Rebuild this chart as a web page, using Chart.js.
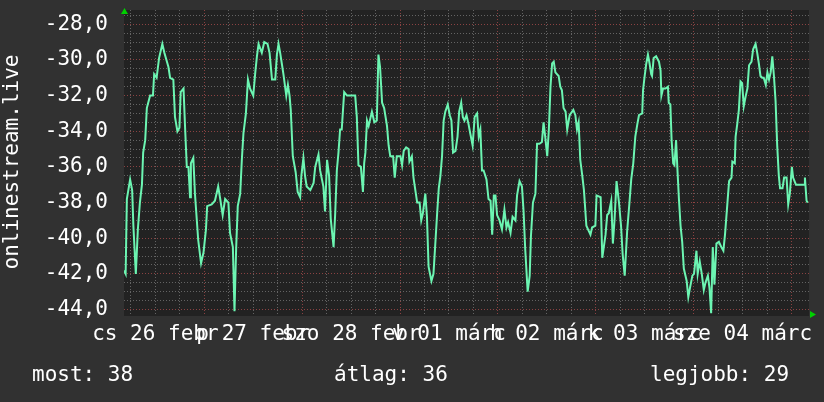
<!DOCTYPE html>
<html>
<head>
<meta charset="utf-8">
<script src="https://cdn.jsdelivr.net/npm/chart.js@4.4.1/dist/chart.umd.min.js"></script>
<style>
  html, body { margin: 0; padding: 0; background: #313131; }
  #wrap { position: relative; width: 824px; height: 402px; overflow: hidden; }
  canvas { display: block; }
  .foot { position: absolute; top: 362px; font-family: "DejaVu Sans Mono", monospace; font-size: 21px; line-height: 24px; color: #ffffff; white-space: pre; }
</style>
</head>
<body>
<div id="wrap">
  <canvas id="c" width="824" height="402"></canvas>
  <div class="foot" id="f1" style="left:32px"></div>
  <div class="foot" id="f2" style="left:334px"></div>
  <div class="foot" id="f3" style="left:650px"></div>
</div>
<script>
// Time axis: hours since 26 Feb 00:00
const hours = [
  4.3, 4.7, 5.0, 5.8, 6.3, 6.6, 7.2, 7.7, 8.2, 8.7, 9.0, 9.5, 9.9, 10.7, 11.4, 11.7, 12.3, 12.9, 13.7, 14.2,
  15.2, 15.6, 16.4, 16.8, 17.4, 17.9, 18.2, 18.9, 19.3, 19.7, 20.1, 20.5, 20.7, 21.3, 21.7, 22.5, 23.2, 23.8, 24.4, 24.7,
  25.8, 26.6, 27.4, 27.9, 28.5, 29.1, 29.9, 30.3, 31.0, 31.4, 31.8, 32.2, 32.8, 33.2, 33.6, 34.2, 34.7, 35.2, 36.0, 36.5,
  36.9, 37.3, 38.1, 38.7, 39.5, 40.0, 40.6, 41.4, 41.8, 42.2, 42.6, 43.0, 43.4, 44.1, 44.5, 44.9, 45.2, 45.7, 46.4, 46.9,
  47.5, 47.8, 48.3, 48.7, 49.1, 50.0, 50.8, 51.2, 52.0, 52.4, 53.2, 53.6, 54.1, 54.6, 55.0, 55.7, 56.1, 56.5, 56.9, 57.3,
  57.7, 58.3, 59.0, 61.0, 61.4, 61.8, 62.4, 62.9, 63.2, 63.5, 63.9, 64.3, 65.1, 65.7, 66.3, 66.7, 67.1, 67.6, 68.1, 68.8,
  69.2, 69.6, 70.3, 70.7, 71.2, 72.1, 72.5, 72.9, 73.5, 74.1, 74.3, 74.9, 75.3, 76.2, 76.8, 77.2, 77.6, 78.2, 78.6, 79.0,
  79.7, 80.2, 80.6, 81.1, 81.5, 81.9, 82.3, 82.7, 83.1, 83.7, 84.2, 84.6, 85.0, 85.6, 86.1, 86.5, 87.0, 87.4, 87.8, 88.3,
  88.8, 89.2, 89.8, 90.3, 90.9, 91.3, 91.7, 92.1, 92.5, 93.2, 93.7, 94.2, 94.6, 95.0, 95.4, 95.8, 96.4, 97.0, 97.6, 98.1,
  98.5, 99.1, 99.6, 100.3, 100.7, 101.3, 101.9, 102.3, 102.7, 103.3, 103.8, 104.1, 104.6, 105.2, 105.6, 106.2, 106.8, 107.2, 107.6, 108.1,
  108.5, 108.9, 109.3, 109.7, 110.1, 110.9, 111.3, 111.7, 112.1, 112.6, 113.0, 113.6, 114.5, 115.0, 115.4, 115.8, 116.2, 116.7, 117.1, 117.7,
  118.3, 118.7, 119.1, 119.9, 120.2, 121.2, 121.6, 122.4, 122.8, 123.2, 123.8, 124.2, 124.6, 125.1, 125.7, 126.2, 126.6, 127.1, 127.7, 128.3,
  128.7, 129.2, 129.7, 130.2, 130.6, 131.4, 131.6, 132.0, 132.4, 132.8, 133.2, 133.6, 133.8, 134.2, 134.8, 135.5, 135.9, 136.1, 136.5, 137.1,
  137.7, 137.9, 138.3, 138.6, 139.0, 139.3, 139.7, 140.0, 140.4, 140.8, 141.2, 141.6, 142.3, 142.7, 143.1, 143.7, 144.1, 144.7, 145.0, 145.5,
  146.0, 146.5, 146.9, 147.5, 147.9, 148.3, 148.7, 149.1, 149.6, 150.2, 150.8, 151.3, 151.7, 152.3, 152.7, 153.3, 153.5, 154.1, 154.3, 154.7,
  155.1, 155.5, 155.9, 156.3, 156.8, 157.2, 157.6, 158.2, 158.6, 159.2, 159.6, 160.0, 160.4, 160.8, 161.2, 161.7, 162.1, 162.5, 162.9, 163.3,
  163.7, 164.1, 164.5, 164.9, 165.2, 165.8, 166.2, 166.8, 167.2, 167.6, 168.1, 168.4, 169.1, 171.1, 171.3, 171.7, 172.0
];
const values = [
  -41.8, -42.0, -37.8, -36.7, -37.3, -39.3, -42.0, -39.5, -38.0, -37.0, -35.2, -34.5, -32.7, -32.0, -32.0, -30.8, -31.0, -29.9, -29.1, -29.6,
  -30.4, -31.0, -31.1, -33.2, -34.0, -33.8, -31.8, -31.6, -33.9, -36.0, -36.0, -37.7, -35.8, -35.5, -37.5, -40.1, -41.4, -40.8, -39.5, -38.2,
  -38.1, -37.9, -37.1, -37.8, -38.7, -37.8, -38.0, -39.7, -40.5, -44.1, -40.6, -38.2, -37.5, -35.6, -34.1, -33.0, -31.1, -31.6, -32.0, -30.7,
  -29.8, -29.1, -29.6, -29.0, -29.1, -29.6, -31.1, -31.1, -29.7, -29.1, -29.6, -30.2, -30.8, -32.0, -31.4, -32.0, -32.8, -35.4, -36.3, -37.4,
  -37.7, -36.5, -35.5, -36.5, -37.1, -37.3, -36.9, -36.0, -35.3, -36.2, -37.1, -38.5, -35.6, -36.5, -38.9, -40.5, -38.6, -36.2, -35.2, -33.9,
  -33.9, -31.8, -32.0, -32.0, -33.2, -35.9, -36.0, -37.4, -35.8, -35.2, -33.4, -33.7, -32.9, -33.5, -33.4, -29.7, -30.4, -32.4, -32.7, -33.7,
  -34.8, -35.4, -35.4, -36.6, -35.4, -35.4, -35.9, -35.1, -34.9, -35.0, -35.7, -35.4, -36.6, -38.0, -38.0, -39.0, -38.6, -37.5, -38.8, -41.6,
  -42.4, -42.0, -40.5, -38.6, -37.2, -36.5, -35.4, -33.4, -32.9, -32.5, -33.1, -33.4, -35.2, -35.1, -34.3, -32.9, -32.4, -33.2, -33.4, -33.1,
  -33.6, -34.1, -34.8, -33.2, -33.0, -34.3, -33.9, -36.2, -36.2, -36.7, -37.8, -37.9, -39.8, -37.6, -37.6, -38.7, -39.0, -39.5, -38.4, -39.4,
  -39.1, -39.7, -38.8, -39.0, -37.6, -36.8, -37.1, -38.5, -40.6, -43.0, -42.1, -39.9, -38.0, -37.5, -34.7, -34.7, -34.6, -33.5, -34.3, -35.4,
  -33.9, -31.5, -30.2, -30.1, -30.7, -30.9, -31.5, -31.7, -32.7, -32.9, -33.9, -33.1, -32.8, -33.1, -33.9, -33.5, -35.6, -36.5, -37.3, -39.3,
  -39.6, -39.8, -39.4, -39.3, -37.6, -37.7, -41.1, -39.8, -38.7, -38.6, -37.9, -40.3, -39.0, -36.8, -38.0, -39.3, -40.9, -42.1, -39.6, -37.9,
  -36.7, -35.8, -34.3, -33.6, -33.1, -33.0, -31.7, -30.9, -30.2, -29.7, -30.2, -30.8, -30.9, -29.9, -29.8, -30.1, -30.6, -32.0, -31.6, -31.6,
  -31.5, -32.4, -32.5, -34.5, -35.8, -35.9, -34.5, -36.0, -37.8, -39.3, -40.2, -41.7, -42.4, -43.3, -42.8, -42.1, -42.0, -40.7, -42.0, -41.3,
  -42.0, -42.9, -42.5, -42.1, -42.8, -44.2, -40.5, -42.6, -40.3, -40.2, -40.5, -40.7, -39.8, -38.0, -36.8, -36.6, -35.7, -35.8, -34.3, -33.6,
  -32.8, -31.2, -31.3, -32.6, -32.0, -31.6, -30.3, -30.1, -29.4, -29.1, -29.6, -30.2, -30.9, -31.0, -31.0, -31.4, -30.7, -31.1, -30.7, -29.8,
  -30.9, -32.3, -34.8, -36.5, -37.2, -37.2, -36.6, -36.6, -38.1, -37.5, -36.0, -36.6, -37.0, -37.0, -36.6, -37.9, -38.0
];
const dayNoonHours = [12, 36, 60, 84, 108, 132, 156];
const dayLabels = ['cs 26 febr', 'p 27 febr', 'szo 28 febr', 'v 01 márc', 'h 02 márc', 'k 03 márc', 'sze 04 márc'];
const yTickValues = [-44, -42, -40, -38, -36, -34, -32, -30, -28];
const axisTitle = 'onlinestream.live';
const footerLabels = ['most: 38', 'átlag: 36', 'legjobb: 29'];

const FONT = '"DejaVu Sans Mono", monospace';
const GRID_MINOR = 'rgba(110,110,110,0.85)';
const GRID_MAJOR = 'rgba(150,70,70,0.9)';

document.getElementById('f1').textContent = footerLabels[0];
document.getElementById('f2').textContent = footerLabels[1];
document.getElementById('f3').textContent = footerLabels[2];

const points = hours.map((h, i) => ({ x: h, y: values[i] }));

const decor = {
  id: 'decor',
  beforeDraw(chart) {
    const { ctx, chartArea: a } = chart;
    ctx.save();
    ctx.fillStyle = '#222222';
    ctx.fillRect(a.left, a.top, a.right - a.left, a.bottom - a.top + 2);
    ctx.restore();
  },
  afterDraw(chart) {
    const { ctx, chartArea: a } = chart;
    ctx.save();
    ctx.fillStyle = '#00d000';
    ctx.beginPath();
    ctx.moveTo(a.left - 3, a.top + 4);
    ctx.lineTo(a.left + 4, a.top + 4);
    ctx.lineTo(a.left + 0.5, a.top - 2);
    ctx.closePath();
    ctx.fill();
    ctx.beginPath();
    ctx.moveTo(a.right + 1, a.bottom - 3);
    ctx.lineTo(a.right + 1, a.bottom + 4);
    ctx.lineTo(a.right + 7, a.bottom + 0.5);
    ctx.closePath();
    ctx.fill();
    ctx.restore();
  }
};

new Chart(document.getElementById('c'), {
  type: 'line',
  data: {
    datasets: [{
      data: points,
      borderColor: 'rgb(108,245,178)',
      borderWidth: 2,
      pointRadius: 0,
      tension: 0,
      fill: false
    }]
  },
  options: {
    responsive: false,
    animation: false,
    layout: { padding: { top: 10, right: 15, left: 0, bottom: 0 } },
    plugins: { legend: { display: false }, tooltip: { enabled: false } },
    scales: {
      x: {
        type: 'linear',
        min: 4.3,
        max: 172.3,
        afterFit(s) { s.height = 88; s.paddingLeft = 0; s.paddingRight = 0; },
        afterBuildTicks(s) {
          const t = [];
          for (let v = 6; v <= 168; v += 6) t.push({ value: v });
          s.ticks = t;
        },
        grid: {
          drawTicks: false,
          lineWidth: 1,
          color: (c) => (c.tick && c.tick.value % 24 === 0) ? GRID_MAJOR : GRID_MINOR
        },
        border: { display: false, dash: [1, 2] },
        ticks: {
          autoSkip: false,
          maxRotation: 0,
          minRotation: 0,
          padding: 8,
          color: '#ffffff',
          font: { family: FONT, size: 21 },
          callback: (v) => {
            const i = dayNoonHours.indexOf(v);
            return i >= 0 ? dayLabels[i] : '';
          }
        }
      },
      y: {
        min: -44.25,
        max: -27.2,
        afterFit(s) { s.width = 124; s.paddingTop = 0; s.paddingBottom = 0; },
        afterBuildTicks(s) {
          const t = [];
          for (let i = 0; i <= 33; i++) t.push({ value: -44 + i * 0.5 });
          s.ticks = t;
        },
        grid: {
          drawTicks: false,
          lineWidth: 1,
          color: (c) => (c.tick && yTickValues.includes(c.tick.value)) ? GRID_MAJOR : GRID_MINOR
        },
        border: { display: false, dash: [1, 2] },
        title: {
          display: true,
          text: axisTitle,
          color: '#ffffff',
          font: { family: FONT, size: 21 },
          padding: { top: 0, bottom: 0 }
        },
        ticks: {
          autoSkip: false,
          padding: 16,
          color: '#ffffff',
          font: { family: FONT, size: 21 },
          callback: (v) => yTickValues.includes(v) ? v.toFixed(1).replace('.', ',') : ''
        }
      }
    }
  },
  plugins: [decor]
});
</script>
</body>
</html>
